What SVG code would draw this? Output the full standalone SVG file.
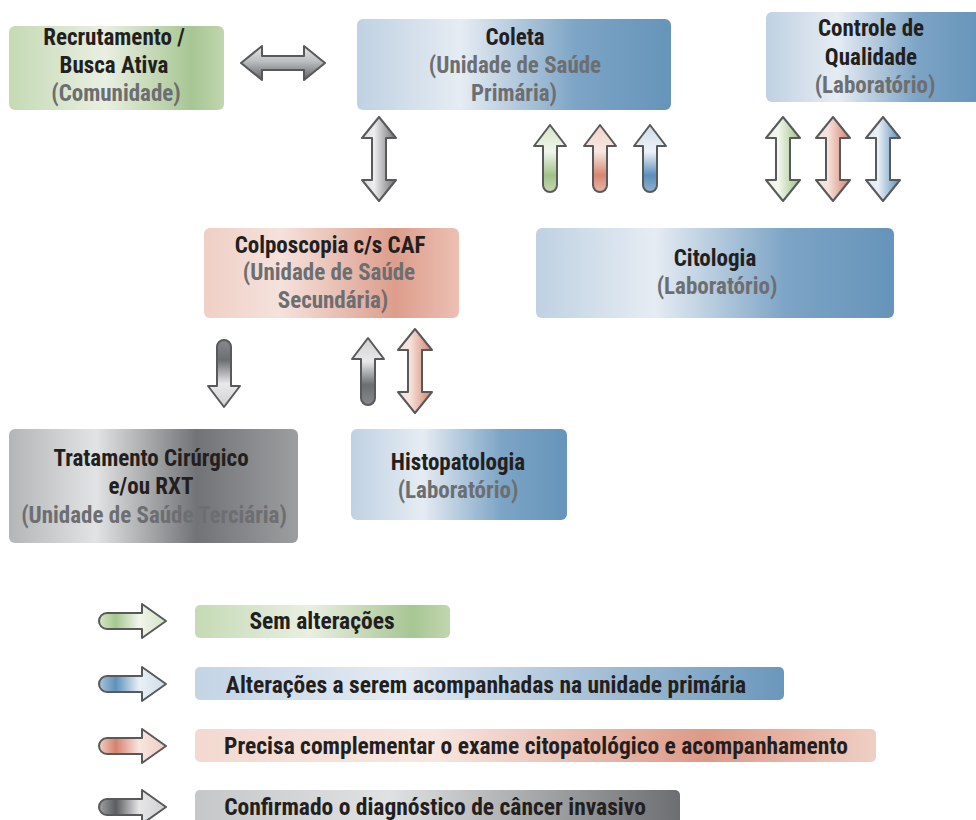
<svg xmlns="http://www.w3.org/2000/svg" width="976" height="820" viewBox="0 0 976 820">
<defs>
<style>
text{font-family:"Liberation Sans Narrow","Roboto Condensed","Liberation Sans",Arial,sans-serif;font-weight:bold;font-size:23px;text-anchor:middle;font-stretch:condensed}
.t{fill:#231f20}
.s{fill:#6d6e71}
.lg{font-size:23.5px;fill:#231f20}
.ar{stroke:#58595b;stroke-width:2;stroke-linejoin:round}
</style>
<linearGradient id="gBlue" x1="0" y1="0" x2="1" y2="0">
<stop offset="0" stop-color="#bfd1e2"/><stop offset="0.33" stop-color="#e6ecf3"/><stop offset="0.7" stop-color="#7ca4c5"/><stop offset="1" stop-color="#6694ba"/>
</linearGradient>
<linearGradient id="gRed" x1="0" y1="0" x2="1" y2="0">
<stop offset="0" stop-color="#efcfc5"/><stop offset="0.3" stop-color="#f5e2dc"/><stop offset="0.75" stop-color="#dd9d8c"/><stop offset="1" stop-color="#ecc0b3"/>
</linearGradient>
<linearGradient id="gGreen" x1="0" y1="0" x2="1" y2="0">
<stop offset="0" stop-color="#c5dab5"/><stop offset="0.45" stop-color="#e9efe1"/><stop offset="0.85" stop-color="#a7c693"/><stop offset="1" stop-color="#c0d6af"/>
</linearGradient>
<linearGradient id="gGray" x1="0" y1="0" x2="1" y2="0">
<stop offset="0" stop-color="#b4b5b7"/><stop offset="0.3" stop-color="#e2e3e4"/><stop offset="0.65" stop-color="#727376"/><stop offset="1" stop-color="#9d9ea0"/>
</linearGradient>
<linearGradient id="gBlueL" x1="0" y1="0" x2="1" y2="0">
<stop offset="0" stop-color="#c3d4e5"/><stop offset="0.35" stop-color="#e4eaf2"/><stop offset="1" stop-color="#6a97bc"/>
</linearGradient>
<linearGradient id="gRedL" x1="0" y1="0" x2="1" y2="0">
<stop offset="0" stop-color="#f3d9d0"/><stop offset="0.35" stop-color="#f7e6e0"/><stop offset="0.75" stop-color="#dc9a88"/><stop offset="1" stop-color="#f0cfc4"/>
</linearGradient>
<linearGradient id="gGrayL" x1="0" y1="0" x2="1" y2="0">
<stop offset="0" stop-color="#c6c7c9"/><stop offset="0.4" stop-color="#e0e1e2"/><stop offset="1" stop-color="#6d6e71"/>
</linearGradient>
<linearGradient id="aGreenH" x1="0" y1="0" x2="1" y2="0">
<stop offset="0" stop-color="#e7f0dd"/><stop offset="0.35" stop-color="#f4f7ef"/><stop offset="1" stop-color="#9dc184"/>
</linearGradient>
<linearGradient id="aRedH" x1="0" y1="0" x2="1" y2="0">
<stop offset="0" stop-color="#f6e1da"/><stop offset="0.35" stop-color="#f6e3dc"/><stop offset="1" stop-color="#d5816c"/>
</linearGradient>
<linearGradient id="aBlueH" x1="0" y1="0" x2="1" y2="0">
<stop offset="0" stop-color="#dde7f1"/><stop offset="0.35" stop-color="#eaf0f6"/><stop offset="1" stop-color="#5b8fba"/>
</linearGradient>
<linearGradient id="aGrayH" x1="0" y1="0" x2="1" y2="0">
<stop offset="0" stop-color="#d9dadb"/><stop offset="0.35" stop-color="#eeeeef"/><stop offset="1" stop-color="#6b6c6f"/>
</linearGradient>
<linearGradient id="aGrayV" x1="0" y1="0" x2="0" y2="1">
<stop offset="0" stop-color="#e6e6e7"/><stop offset="0.45" stop-color="#bdbec0"/><stop offset="1" stop-color="#5f6063"/>
</linearGradient>
<linearGradient id="uGreen" x1="0" y1="0" x2="0" y2="1">
<stop offset="0" stop-color="#d5e5c6"/><stop offset="0.4" stop-color="#f1f5eb"/><stop offset="0.75" stop-color="#9fc287"/><stop offset="1" stop-color="#c3d9b2"/>
</linearGradient>
<linearGradient id="uRed" x1="0" y1="0" x2="0" y2="1">
<stop offset="0" stop-color="#f2d2c8"/><stop offset="0.4" stop-color="#f7e7e1"/><stop offset="0.75" stop-color="#d78672"/><stop offset="1" stop-color="#eab8aa"/>
</linearGradient>
<linearGradient id="uBlue" x1="0" y1="0" x2="0" y2="1">
<stop offset="0" stop-color="#cddcea"/><stop offset="0.4" stop-color="#eef2f7"/><stop offset="0.75" stop-color="#5a8eba"/><stop offset="1" stop-color="#8fb2d0"/>
</linearGradient>
<linearGradient id="uGray" x1="0" y1="0" x2="0" y2="1">
<stop offset="0" stop-color="#d0d1d2"/><stop offset="0.35" stop-color="#e9e9ea"/><stop offset="0.7" stop-color="#6c6d70"/><stop offset="1" stop-color="#88898c"/>
</linearGradient>
<linearGradient id="dGray" x1="0" y1="1" x2="0" y2="0">
<stop offset="0" stop-color="#d0d1d2"/><stop offset="0.35" stop-color="#e9e9ea"/><stop offset="0.7" stop-color="#6c6d70"/><stop offset="1" stop-color="#88898c"/>
</linearGradient>
<linearGradient id="lGreen" x1="0" y1="0" x2="1" y2="0">
<stop offset="0" stop-color="#d6e6c8"/><stop offset="0.25" stop-color="#a6c78f"/><stop offset="0.6" stop-color="#f2f5ec"/><stop offset="1" stop-color="#d3e3c4"/>
</linearGradient>
<linearGradient id="lBlue" x1="0" y1="0" x2="1" y2="0">
<stop offset="0" stop-color="#a9c3da"/><stop offset="0.25" stop-color="#5e91bb"/><stop offset="0.6" stop-color="#e9eff6"/><stop offset="1" stop-color="#cfdeeb"/>
</linearGradient>
<linearGradient id="lRed" x1="0" y1="0" x2="1" y2="0">
<stop offset="0" stop-color="#f0d0c6"/><stop offset="0.25" stop-color="#d6826d"/><stop offset="0.6" stop-color="#f7e6e0"/><stop offset="1" stop-color="#f0cbbf"/>
</linearGradient>
<linearGradient id="lGray" x1="0" y1="0" x2="1" y2="0">
<stop offset="0" stop-color="#a0a1a3"/><stop offset="0.25" stop-color="#5c5d60"/><stop offset="0.6" stop-color="#e6e6e7"/><stop offset="1" stop-color="#cfd0d1"/>
</linearGradient>
<path id="dblV" d="M17,0 L34,21 L24,21 L24,63 L34,63 L17,84 L0,63 L10,63 L10,21 L0,21 Z"/>
<path id="dblH" d="M0,17 L21,0 L21,10 L63,10 L63,0 L84,17 L63,34 L63,24 L21,24 L21,34 Z"/>
<path id="upA" d="M16,0 L32,21 L23,21 L23,60 A7,7 0 0 1 9,60 L9,21 L0,21 Z"/>
<path id="dnA" d="M9,7 A7,7 0 0 1 23,7 L23,46 L32,46 L16,67 L0,46 L9,46 Z"/>
<path id="rtA" d="M9,9 L44,9 L44,0 L68,17 L44,34 L44,25 L9,25 A8,8 0 0 1 9,9 Z"/>
</defs>

<rect width="976" height="820" fill="#ffffff"/>

<g id="connectors">
<use href="#dblH" x="241" y="46" fill="url(#aGrayV)" class="ar"/>
<use href="#dblV" x="362" y="117" fill="url(#aGrayH)" class="ar"/>
<use href="#upA" x="534" y="125" fill="url(#uGreen)" class="ar"/>
<use href="#upA" x="584" y="125" fill="url(#uRed)" class="ar"/>
<use href="#upA" x="634" y="125" fill="url(#uBlue)" class="ar"/>
<use href="#dblV" x="766" y="117" fill="url(#aGreenH)" class="ar"/>
<use href="#dblV" x="816" y="117" fill="url(#aRedH)" class="ar"/>
<use href="#dblV" x="866" y="117" fill="url(#aBlueH)" class="ar"/>
<use href="#dnA" x="208" y="340" fill="url(#dGray)" class="ar"/>
<use href="#upA" x="352" y="338" fill="url(#uGray)" class="ar"/>
<use href="#dblV" x="398" y="329" fill="url(#aRedH)" class="ar"/>
</g>

<g id="recrutamento">
<rect x="9" y="26" width="215" height="84" rx="6" fill="url(#gGreen)"/>
<text x="114" y="45" class="t">Recrutamento /</text>
<text x="114" y="73" class="t">Busca Ativa</text>
<text x="116" y="101" class="s">(Comunidade)</text>
</g>

<g id="coleta">
<rect x="357" y="19" width="314" height="91" rx="6" fill="url(#gBlue)"/>
<text x="515" y="45" class="t">Coleta</text>
<text x="515" y="73" class="s">(Unidade de Saúde</text>
<text x="514" y="101" class="s">Primária)</text>
</g>

<g id="controle">
<rect x="766" y="12" width="216" height="90" rx="6" fill="url(#gBlue)"/>
<text x="871" y="36" class="t">Controle de</text>
<text x="871" y="65" class="t">Qualidade</text>
<text x="875" y="93" class="s">(Laboratório)</text>
</g>

<g id="colposcopia">
<rect x="204" y="228" width="255" height="90" rx="6" fill="url(#gRed)"/>
<text x="330" y="253" class="t">Colposcopia c/s CAF</text>
<text x="329" y="280" class="s">(Unidade de Saúde</text>
<text x="333" y="308" class="s">Secundária)</text>
</g>

<g id="citologia">
<rect x="536" y="228" width="358" height="90" rx="6" fill="url(#gBlue)"/>
<text x="715" y="266" class="t">Citologia</text>
<text x="717" y="294" class="s">(Laboratório)</text>
</g>

<g id="tratamento">
<rect x="9" y="429" width="289" height="114" rx="6" fill="url(#gGray)"/>
<text x="151" y="466" class="t">Tratamento Cirúrgico</text>
<text x="151" y="494" class="t">e/ou RXT</text>
<text x="154" y="523" class="s">(Unidade de Saúde Terciária)</text>
</g>

<g id="histopatologia">
<rect x="351" y="429" width="216" height="91" rx="6" fill="url(#gBlue)"/>
<text x="458" y="470" class="t">Histopatologia</text>
<text x="458" y="498" class="s">(Laboratório)</text>
</g>

<g id="legend">
<use href="#rtA" x="98" y="604" fill="url(#lGreen)" class="ar"/>
<rect x="195" y="605" width="255" height="33" rx="5" fill="url(#gGreen)"/>
<text x="322" y="629" class="lg">Sem alterações</text>

<use href="#rtA" x="98" y="667" fill="url(#lBlue)" class="ar"/>
<rect x="195" y="667" width="589" height="33" rx="5" fill="url(#gBlueL)"/>
<text x="486" y="693" class="lg">Alterações a serem acompanhadas na unidade primária</text>

<use href="#rtA" x="98" y="729" fill="url(#lRed)" class="ar"/>
<rect x="195" y="729" width="681" height="33" rx="5" fill="url(#gRedL)"/>
<text x="536" y="754" class="lg">Precisa complementar o exame citopatológico e acompanhamento</text>

<use href="#rtA" x="98" y="790" fill="url(#lGray)" class="ar"/>
<rect x="195" y="790" width="485" height="36" rx="5" fill="url(#gGrayL)"/>
<text x="435" y="815" class="lg">Confirmado o diagnóstico de câncer invasivo</text>
</g>
</svg>
